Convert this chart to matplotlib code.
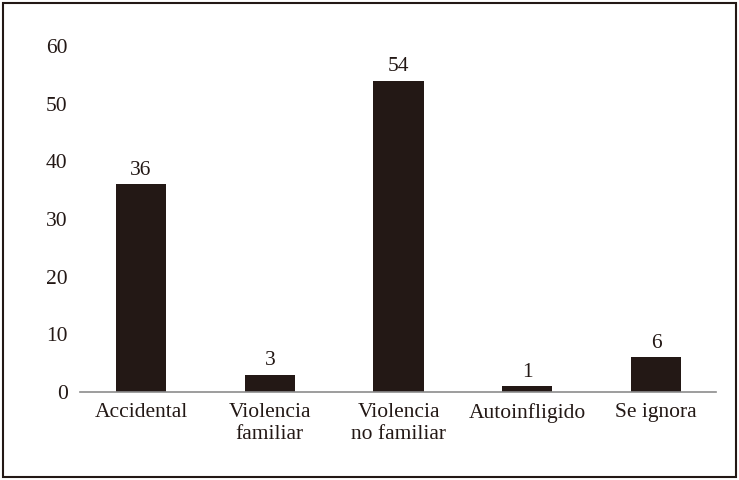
import matplotlib
matplotlib.use("Agg")
import matplotlib.pyplot as plt
from matplotlib.patches import Rectangle

categories = ["Accidental", "Violencia\nfamiliar", "Violencia\nno familiar", "Autoinfligido", "Se ignora"]
values = [36, 3, 54, 1, 6]
yticks = [0, 10, 20, 30, 40, 50, 60]

plt.rcParams['font.family'] = ['Liberation Serif', 'DejaVu Serif']
text_color = "#231815"
bar_color = "#231815"
fs = 15.5

fig = plt.figure(figsize=(7.39, 4.8), dpi=100)
ax = fig.add_axes([80 / 739, 1 - 392 / 480, 636 / 739, (392 - 46) / 480])

x = list(range(len(categories)))
ax.bar(x, values, width=0.39, color=bar_color)
for xi, v in zip(x, values):
    ax.text(xi, v + 0.8, str(v), ha="center", va="bottom", fontsize=fs, color=text_color)

ax.set_xlim(-0.474, 4.466)
ax.set_ylim(0, 60)
ax.set_yticks(yticks)
ax.set_yticklabels([str(t) for t in yticks], fontsize=fs, color=text_color)
ax.set_xticks(x)
ax.set_xticklabels(categories, fontsize=fs, color=text_color, linespacing=1.2)
ax.tick_params(axis="both", length=0)
ax.tick_params(axis="y", pad=9)
ax.tick_params(axis="x", pad=8)
for s in ["top", "right", "left"]:
    ax.spines[s].set_visible(False)
ax.spines["bottom"].set_color("#8c8c8c")
ax.spines["bottom"].set_linewidth(1.2)

fig.patches.append(Rectangle((0.004, 0.006), 0.992, 0.988, transform=fig.transFigure,
                             fill=False, edgecolor="#231815", linewidth=1.5))

fig.savefig("out.png", dpi=100)
